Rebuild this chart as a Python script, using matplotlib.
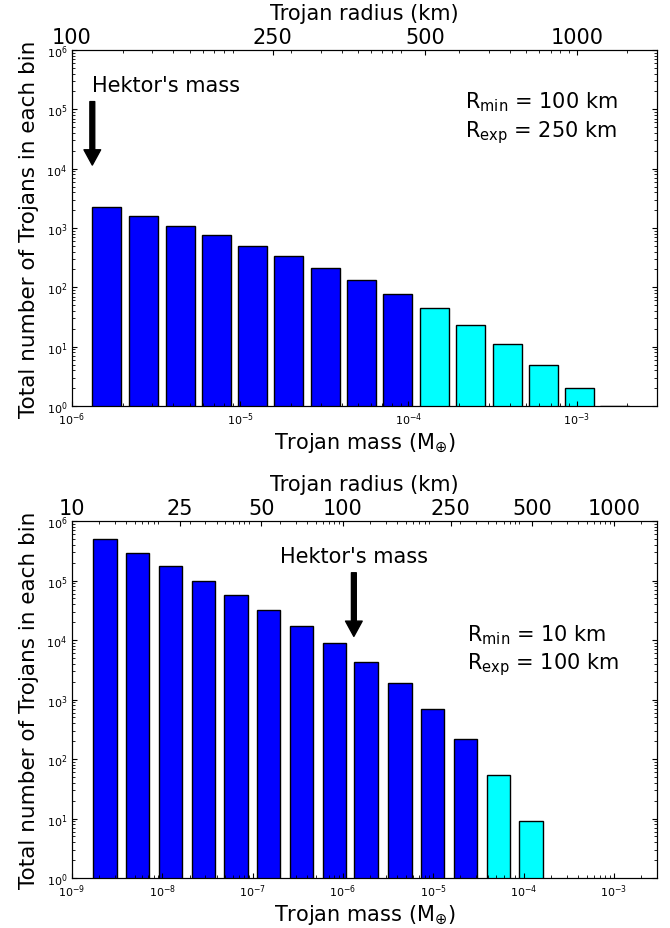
import numpy as np
import matplotlib
matplotlib.use("Agg")
import matplotlib.pyplot as plt

# ---------------- data ----------------
# top panel: R_min = 100 km, R_exp = 250 km
mass_top = [1.32e-6, 2.18e-6, 3.61e-6, 5.90e-6, 9.66e-6, 1.59e-5, 2.62e-5,
            4.31e-5, 7.08e-5, 1.17e-4, 1.91e-4, 3.16e-4, 5.19e-4, 8.49e-4, 1.38e-3]
count_top = [2240, 1580, 1100, 755, 505, 334, 212, 133, 78, 45, 23, 11, 5, 2, 1]
nblue_top = 9

# bottom panel: R_min = 10 km, R_exp = 100 km
mass_bot = [1.72e-9, 3.96e-9, 9.19e-9, 2.12e-8, 4.86e-8, 1.12e-7, 2.60e-7,
            5.97e-7, 1.34e-6, 3.18e-6, 7.33e-6, 1.69e-5, 3.91e-5, 8.98e-5]
count_bot = [4.9e5, 2.9e5, 1.73e5, 1.0e5, 5.8e4, 3.2e4, 1.74e4, 9.0e3,
             4.3e3, 1.87e3, 700, 220, 54, 9]
nblue_bot = 12

radius_top = [100, 250, 500, 1000]
radius_bot = [10, 25, 50, 100, 250, 500, 1000]
hektor = 1.32e-6

FS = 15


def r2m(r):
    # mass in Earth masses, 100 km -> 1e-6
    return 1e-6 * (np.asarray(r, dtype=float) / 100.0) ** 3


def panel(ax, mass, count, nblue, wfac, xmin, radii, rmin, rexp,
          hek_ha, rtxt_x, rtxt_y):
    mass = np.array(mass)
    colors = ['#0000ff'] * nblue + ['#00ffff'] * (len(mass) - nblue)
    ax.bar(mass, count, width=mass * wfac, align='edge', color=colors,
           edgecolor='black', linewidth=1.0)
    ax.set_xscale('log')
    ax.set_yscale('log')
    ax.set_xlim(xmin, 3e-3)
    ax.set_ylim(1, 1e6)
    ax.tick_params(which='both', direction='in', top=False, right=True)
    ax.tick_params(which='major', length=3.5, labelsize=8)
    ax.tick_params(which='minor', length=2)
    ax.set_xlabel(r'Trojan mass ($\mathrm{M_{\oplus}}$)', fontsize=FS, labelpad=2)
    ax.set_ylabel('Total number of Trojans in each bin', fontsize=15.5, labelpad=5)

    ax2 = ax.twiny()
    ax2.set_xscale('log')
    ax2.set_xlim(xmin, 3e-3)
    ax2.set_xticks(r2m(radii))
    ax2.set_xticklabels([str(r) for r in radii])
    ax2.tick_params(which='both', direction='in')
    ax2.tick_params(which='major', length=3.5, labelsize=FS, pad=2)
    ax2.tick_params(which='minor', length=2)
    ax2.set_xlabel('Trojan radius (km)', fontsize=FS, labelpad=6)

    ax.annotate('', xy=(hektor, 1.15e4), xytext=(hektor, 1.35e5),
                arrowprops=dict(facecolor='black', edgecolor='black',
                                width=3.5, headwidth=12, headlength=11, shrink=0))
    ax.text(hektor, 2.6e5, "Hektor's mass", fontsize=FS, ha=hek_ha, va='center')

    ax.text(rtxt_x, rtxt_y[0], r'$\mathrm{R_{min}}$ = %d km' % rmin, fontsize=FS,
            transform=ax.transAxes, va='center')
    ax.text(rtxt_x, rtxt_y[1], r'$\mathrm{R_{exp}}$ = %d km' % rexp, fontsize=FS,
            transform=ax.transAxes, va='center')


fig = plt.figure(figsize=(6.7, 9.29), dpi=100)
ax_top = fig.add_axes([0.1075, 0.5619, 0.8731, 0.3832])
ax_bot = fig.add_axes([0.1075, 0.0538, 0.8731, 0.3843])

panel(ax_top, mass_top, count_top, nblue_top, 0.49, 1e-6, radius_top, 100, 250,
      'left', 0.672, (0.855, 0.772))
panel(ax_bot, mass_bot, count_bot, nblue_bot, 0.807, 1e-9, radius_bot, 10, 100,
      'center', 0.676, (0.683, 0.600))

fig.savefig('out.png', dpi=100)
